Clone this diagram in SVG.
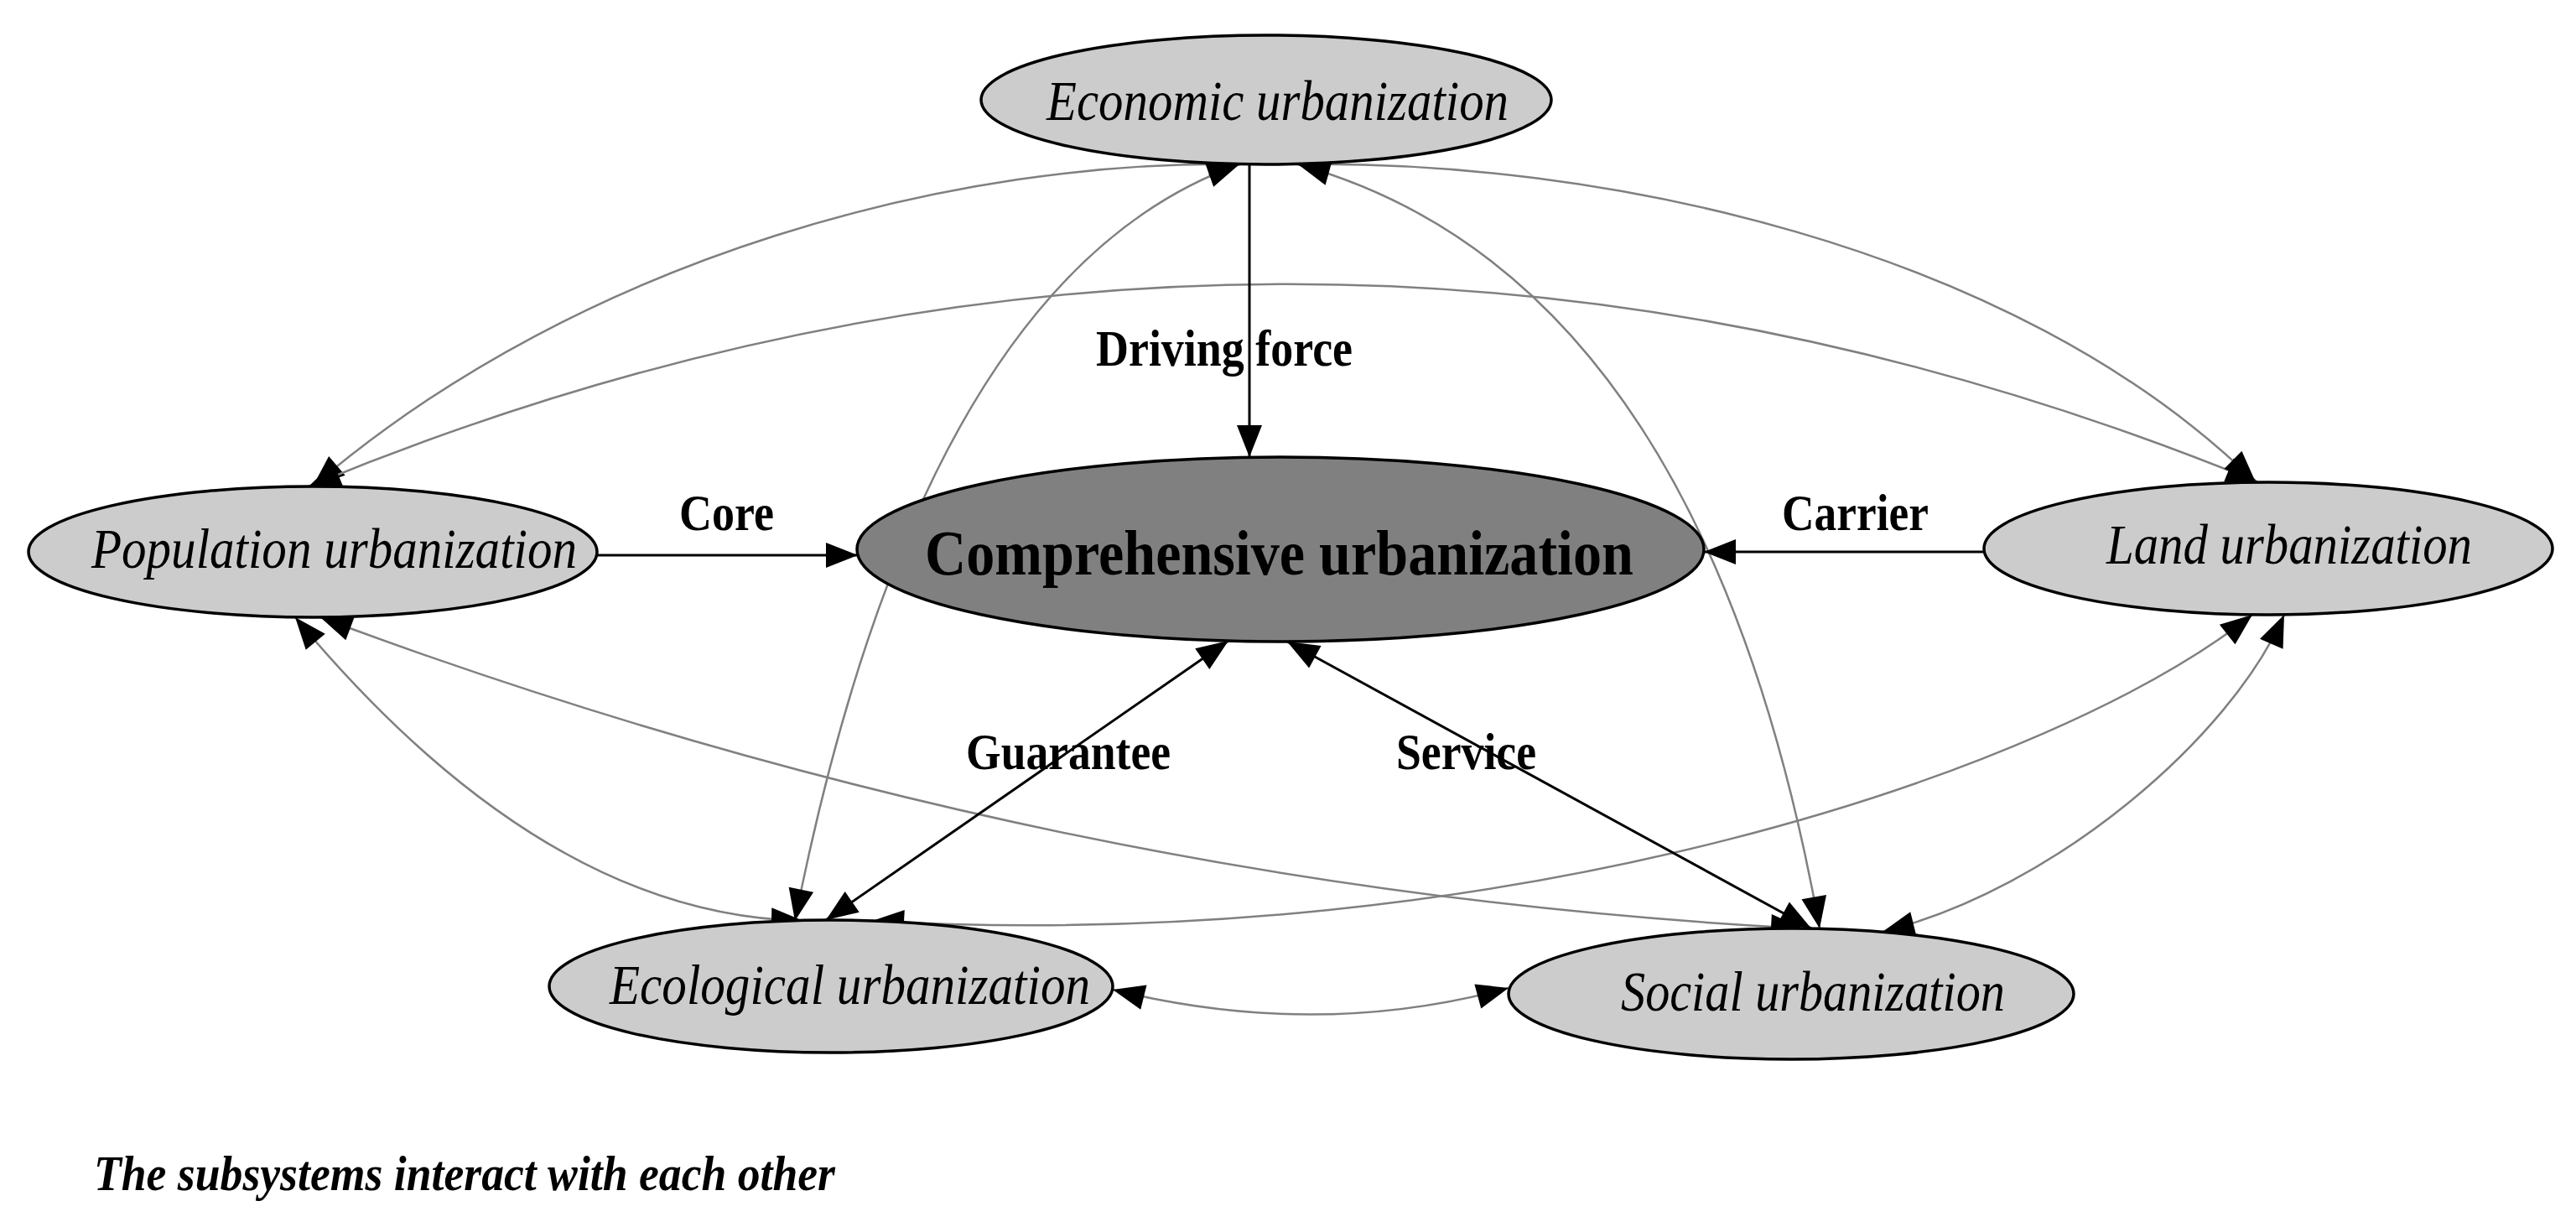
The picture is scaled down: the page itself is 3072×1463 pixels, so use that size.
<svg xmlns="http://www.w3.org/2000/svg" width="3072" height="1463" viewBox="0 0 3072 1463">
<style>
.node{fill:#cccccc;stroke:#000;stroke-width:3.5}
.core{fill:#808080;stroke:#000;stroke-width:3.5}
.nt{font-family:"Liberation Serif","Times New Roman",serif;font-style:italic;font-size:68px;fill:#000}
.ct{font-family:"Liberation Serif","Times New Roman",serif;font-weight:bold;font-size:76px;fill:#000}
.lbl{font-family:"Liberation Serif","Times New Roman",serif;font-weight:bold;font-size:62px;fill:#000}
.cap{font-family:"Liberation Serif","Times New Roman",serif;font-weight:bold;font-style:italic;font-size:60px;fill:#000}
.g{fill:none;stroke:#808080;stroke-width:2.5;marker-start:url(#ah);marker-end:url(#ah)}
.b{fill:none;stroke:#000;stroke-width:3}
.b2{marker-start:url(#ah);marker-end:url(#ah)}
.b1{marker-end:url(#ah)}
</style>
<defs>
<marker id="ah" markerUnits="userSpaceOnUse" markerWidth="44" markerHeight="40" viewBox="-40 -20 44 40" refX="0" refY="0" orient="auto-start-reverse">
<path d="M0,0 L-38,-15 L-38,15 z" fill="#000"/>
</marker>
</defs>
<rect width="3072" height="1463" fill="#fff"/>

<g id="connectors">
<path class="g" d="M1480,196 C1150,190 700,300 373,580"/>
<path class="g" d="M368,580 Q1530,100 2693,575"/>
<path class="g" d="M1545,196 C1900,190 2400,290 2690,575"/>
<path class="g" d="M1478,196 Q1100,330 948,1098"/>
<path class="g" d="M1548,196 Q2030,330 2170,1107"/>
<path class="g" d="M352,736 Q648,1092 958,1098"/>
<path class="g" d="M382,736 Q1250,1060 2150,1107"/>
<path class="g" d="M2686,733 C2450,920 1800,1140 1040,1098"/>
<path class="g" d="M2724,733 C2660,880 2450,1060 2245,1111"/>
<path class="g" d="M1327,1180 Q1570,1240 1799,1178"/>
<path class="b b1" d="M1490,196 L1490,545"/>
<path class="b b1" d="M712,662 L1023,662"/>
<path class="b b1" d="M2366,658 L2032,658"/>
<path class="b b2" d="M1465,764 L985,1097"/>
<path class="b b2" d="M1535,765 L2160,1107"/>
</g>

<g id="labels">
<text class="lbl" x="1307" y="436" textLength="306" lengthAdjust="spacingAndGlyphs">Driving force</text>
<text class="lbl" x="810" y="632" textLength="113" lengthAdjust="spacingAndGlyphs">Core</text>
<text class="lbl" x="2125" y="632" textLength="175" lengthAdjust="spacingAndGlyphs">Carrier</text>
<text class="lbl" x="1152" y="917" textLength="244" lengthAdjust="spacingAndGlyphs">Guarantee</text>
<text class="lbl" x="1665" y="917" textLength="167" lengthAdjust="spacingAndGlyphs">Service</text>
</g>

<g id="economic">
<ellipse class="node" cx="1510" cy="119" rx="340" ry="77"/>
<text class="nt" x="1248" y="143" textLength="551" lengthAdjust="spacingAndGlyphs">Economic urbanization</text>
</g>
<g id="population">
<ellipse class="node" cx="373" cy="658" rx="339" ry="78"/>
<text class="nt" x="109" y="677" textLength="579" lengthAdjust="spacingAndGlyphs">Population urbanization</text>
</g>
<g id="comprehensive">
<ellipse class="core" cx="1527" cy="655" rx="505" ry="110"/>
<text class="ct" x="1103" y="685" textLength="845" lengthAdjust="spacingAndGlyphs">Comprehensive urbanization</text>
</g>
<g id="land">
<ellipse class="node" cx="2705" cy="654" rx="339" ry="79"/>
<text class="nt" x="2512" y="672" textLength="436" lengthAdjust="spacingAndGlyphs">Land urbanization</text>
</g>
<g id="ecological">
<ellipse class="node" cx="991" cy="1176" rx="336" ry="79"/>
<text class="nt" x="727" y="1197" textLength="573" lengthAdjust="spacingAndGlyphs">Ecological urbanization</text>
</g>
<g id="social">
<ellipse class="node" cx="2136" cy="1185" rx="337" ry="78"/>
<text class="nt" x="1933" y="1205" textLength="458" lengthAdjust="spacingAndGlyphs">Social urbanization</text>
</g>

<text class="cap" x="112" y="1419" textLength="884" lengthAdjust="spacingAndGlyphs">The subsystems interact with each other</text>
</svg>
